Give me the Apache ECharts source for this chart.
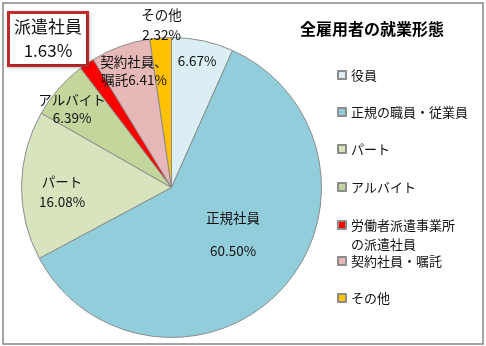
<!DOCTYPE html>
<html>
<head>
<meta charset="utf-8">
<script src="https://cdn.jsdelivr.net/npm/echarts@6/dist/echarts.min.js"></script>
<style>
  html, body { margin: 0; padding: 0; background: #fff; }
  #chart { width: 486px; height: 346px; }
</style>
</head>
<body>
<div id="chart"></div>
<script>
// 全雇用者の就業形態（構成比 %）
const categories = ['役員', '正規の職員・従業員', 'パート', 'アルバイト', '労働者派遣事業所の派遣社員', '契約社員・嘱託', 'その他'];
const shares = [6.67, 60.50, 16.08, 6.39, 1.63, 6.41, 2.32];
const sliceLabels = ['', '正規社員', 'パート', 'アルバイト', '派遣社員', '契約社員、\n嘱託', 'その他'];
const labelJoin = ['', '\n', '\n', '\n', '\n', '', '\n'];
const colors = ['#DAEEF3', '#92CDDC', '#D7E4BD', '#C3D69B', '#FF0000', '#E6B9B8', '#FFC000'];

const FONT = '"Noto Sans CJK JP", "Noto Sans", sans-serif';

// label anchor (centre) for each slice, and line height of its text block
const labelAnchor = [[197, 61], [233, 234], [62, 192], [72, 109], [48, 39], [134, 71], [161.5, 25]];
const labelLH = [16, 33, 20, 18, 24, 18, 20];
// legend row centre (icon) per item
const legendRowY = [75, 112, 149, 187, 225, 261, 298];

const chart = echarts.init(document.getElementById('chart'), null, { renderer: 'canvas' });

const data = categories.map((name, i) => {
  const item = { name: name, value: shares[i], itemStyle: { color: colors[i] } };
  item.label = { lineHeight: labelLH[i] };
  if (i === 4) {
    item.label = {
      lineHeight: labelLH[i],
      fontSize: 17,
      backgroundColor: '#fff',
      borderColor: '#C42B2E',
      borderWidth: 3,
      padding: [2, 4, 0, 4],
      shadowColor: 'rgba(0,0,0,0.25)',
      shadowBlur: 3,
      shadowOffsetX: 1,
      shadowOffsetY: 1
    };
  }
  return item;
});

// one legend block per row so every row sits at its own height;
// the two-line entry gets a leading blank line so the icon lines up with its first line
const LONG = '労働者派遣事業所の派遣社員';
const legends = categories.map((name, i) => {
  const twoLine = name === LONG;
  const lh = twoLine ? 19 : 18;
  return {
    data: [name],
    orient: 'vertical',
    left: 337,
    top: twoLine ? legendRowY[i] - lh * 1.5 : legendRowY[i] - lh / 2,
    padding: 0,
    itemWidth: 8,
    itemHeight: 8,
    icon: 'rect',
    selectedMode: false,
    formatter: n => n === LONG ? ' \n労働者派遣事業所\nの派遣社員' : n,
    textStyle: {
      fontFamily: FONT,
      fontSize: 13,
      color: '#111',
      lineHeight: lh
    }
  };
});

chart.setOption({
  animation: false,
  backgroundColor: '#fff',
  title: {
    text: '全雇用者の就業形態',
    left: 367,
    top: 16,
    textAlign: 'center',
    textStyle: { fontFamily: FONT, fontSize: 16, fontWeight: 'bold', color: '#000' }
  },
  legend: legends,
  graphic: [{
    type: 'rect',
    shape: { x: 3, y: 3, width: 480, height: 341 },
    style: { fill: 'none', stroke: '#868686', lineWidth: 1.5 },
    silent: true,
    z: 100
  }],
  series: [{
    type: 'pie',
    center: [171.5, 187.5],
    radius: 150,
    startAngle: 90,
    clockwise: true,
    avoidLabelOverlap: false,
    itemStyle: { borderColor: '#8c8c8c', borderWidth: 1 },
    label: {
      show: true,
      position: 'inside',
      fontFamily: FONT,
      fontSize: 13.5,
      color: '#111',
      align: 'center',
      formatter: p => sliceLabels[p.dataIndex] + labelJoin[p.dataIndex] + p.value.toFixed(2) + '%'
    },
    labelLine: { show: false },
    labelLayout: p => ({
      x: labelAnchor[p.dataIndex][0],
      y: labelAnchor[p.dataIndex][1],
      align: 'center',
      verticalAlign: 'middle'
    }),
    emphasis: { disabled: true },
    data: data
  }]
});
</script>
</body>
</html>
